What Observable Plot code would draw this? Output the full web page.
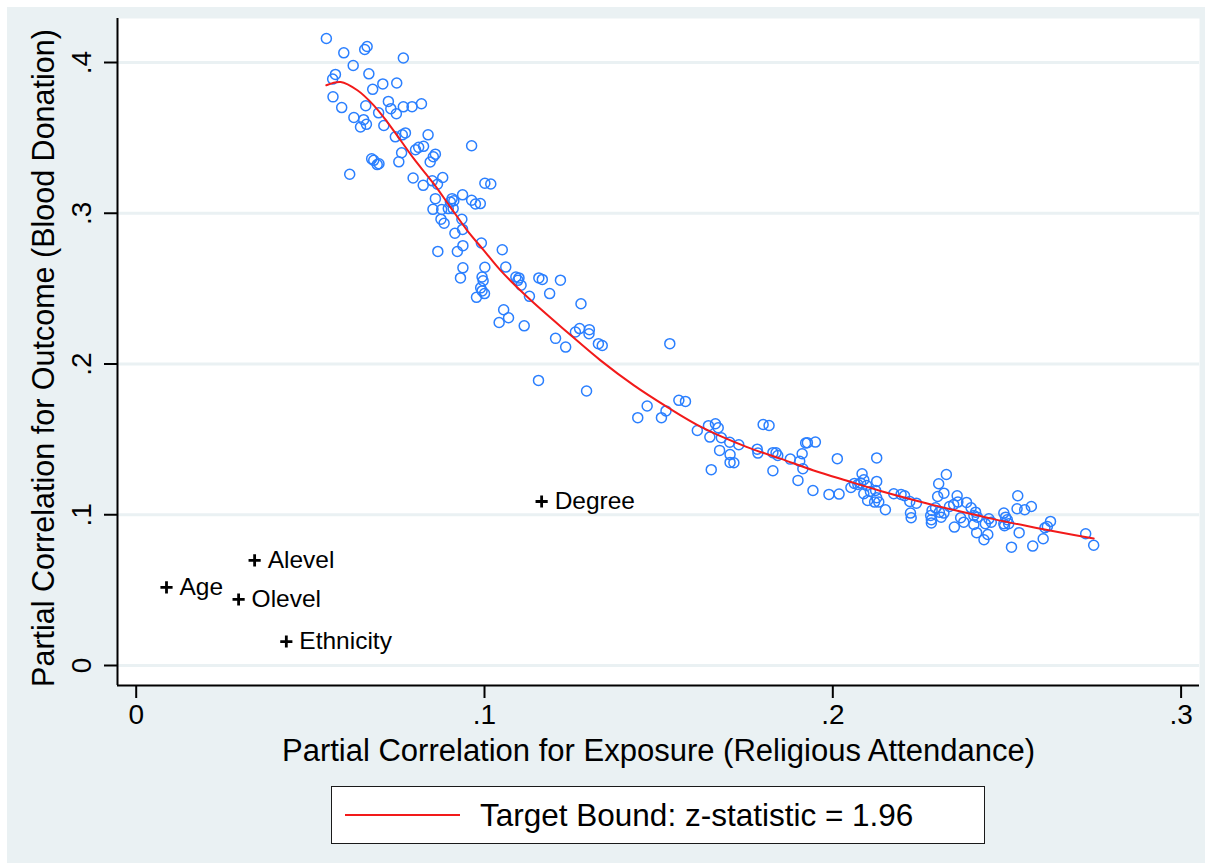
<!DOCTYPE html>
<html>
<head>
<meta charset="utf-8">
<script src="https://cdn.jsdelivr.net/npm/d3@7"></script>
<script src="https://cdn.jsdelivr.net/npm/@observablehq/plot@0.6"></script>
<style>
  html, body { margin: 0; padding: 0; background: #ffffff; }
  #wrap { position: relative; width: 1205px; height: 863px; overflow: hidden; }
  #chart { position: absolute; left: 7px; top: 7px; }
  #legend {
    position: absolute; left: 331px; top: 786px; width: 654px; height: 58px;
    box-sizing: border-box; border: 1.5px solid #1a1a1a; background: #ffffff;
    font-family: "Liberation Sans", Arial, sans-serif; font-size: 31.5px; color: #000;
    display: flex; align-items: center;
  }
  #legend .swatch { width: 115px; height: 2px; background: #f21a1a; margin-left: 13px; }
  #legend .lab { margin-left: 20px; white-space: nowrap; }
</style>
</head>
<body>
<div id="wrap">
  <div id="chart"></div>
  <div id="legend"><div class="swatch"></div><div class="lab">Target Bound: z-statistic = 1.96</div></div>
</div>
<script>
// ---------- data ----------
const xTitle = "Partial Correlation for Exposure (Religious Attendance)";
const yTitle = "Partial Correlation for Outcome (Blood Donation)";
const xTicks = [0, 0.1, 0.2, 0.3];
const xTickLabels = ["0", ".1", ".2", ".3"];
const yTicks = [0, 0.1, 0.2, 0.3, 0.4];
const yTickLabels = ["0", ".1", ".2", ".3", ".4"];

// simulated partial correlations (scatter of hollow circles)
const exposureCorr = [0.0546,0.0596,0.0656,0.0663,0.0767,0.0623,0.0668,0.0572,0.0564,0.0565,0.0590,0.0679,0.0708,0.0748,0.0659,0.0724,0.0731,0.0747,0.0767,0.0792,0.0819,0.0696,0.0625,0.0653,0.0661,0.0644,0.0711,0.0744,0.0764,0.0773,0.0838,0.0802,0.0811,0.0825,0.0762,0.0859,0.0853,0.0844,0.0754,0.0676,0.0682,0.0692,0.0697,0.0613,0.0963,0.0795,0.0824,0.0850,0.0865,0.0880,0.1001,0.1018,0.0859,0.0907,0.0912,0.0902,0.0937,0.0963,0.0974,0.0988,0.0852,0.0877,0.0896,0.0910,0.0875,0.0884,0.0935,0.0937,0.0915,0.0991,0.0866,0.0922,0.0938,0.1051,0.0938,0.0931,0.1001,0.0993,0.0996,0.0989,0.0993,0.1000,0.0977,0.1061,0.1090,0.1099,0.1096,0.1105,0.1156,0.1166,0.1218,0.1129,0.1187,0.1055,0.1069,0.1042,0.1114,0.1277,0.1204,0.1233,0.1261,0.1273,0.1301,0.1300,0.1327,0.1338,0.1532,0.1155,0.1293,0.1467,0.1440,0.1508,0.1521,0.1558,0.1577,0.1611,0.1643,0.1663,0.1671,0.1647,0.1680,0.1704,0.1730,0.1675,0.1705,0.1705,0.1716,0.1651,0.1800,0.1817,0.1783,0.1785,0.1828,0.1837,0.1842,0.1828,0.1878,0.1922,0.1927,0.1950,0.1912,0.1905,0.1914,0.1900,0.1943,0.1989,0.2018,0.2013,0.2126,0.2052,0.2062,0.2072,0.2084,0.2089,0.2080,0.2097,0.2126,0.2089,0.2100,0.2120,0.2126,0.2123,0.2151,0.2132,0.2175,0.2196,0.2206,0.2221,0.2240,0.2223,0.2225,0.2326,0.2304,0.2319,0.2301,0.2285,0.2281,0.2283,0.2283,0.2295,0.2306,0.2311,0.2319,0.2335,0.2347,0.2357,0.2359,0.2367,0.2376,0.2349,0.2384,0.2397,0.2410,0.2405,0.2415,0.2405,0.2413,0.2434,0.2445,0.2438,0.2448,0.2455,0.2491,0.2496,0.2501,0.2491,0.2505,0.2493,0.2531,0.2529,0.2551,0.2570,0.2535,0.2513,0.2574,0.2604,0.2609,0.2616,0.2625,0.2726,0.2749,0.2108];
const outcomeCorr = [0.4159,0.4064,0.4086,0.4106,0.4030,0.3980,0.3925,0.3921,0.3890,0.3772,0.3701,0.3822,0.3858,0.3864,0.3713,0.3742,0.3694,0.3660,0.3706,0.3707,0.3726,0.3666,0.3635,0.3621,0.3590,0.3572,0.3582,0.3507,0.3520,0.3533,0.3520,0.3421,0.3437,0.3444,0.3401,0.3392,0.3375,0.3340,0.3341,0.3361,0.3351,0.3323,0.3328,0.3259,0.3448,0.3234,0.3185,0.3215,0.3192,0.3237,0.3199,0.3194,0.3097,0.3097,0.3083,0.3074,0.3122,0.3086,0.3061,0.3064,0.3026,0.3025,0.3031,0.3031,0.2961,0.2934,0.2960,0.2893,0.2867,0.2803,0.2747,0.2746,0.2785,0.2758,0.2638,0.2571,0.2642,0.2577,0.2552,0.2505,0.2485,0.2467,0.2442,0.2643,0.2577,0.2571,0.2555,0.2522,0.2571,0.2561,0.2556,0.2449,0.2467,0.2360,0.2307,0.2275,0.2253,0.2400,0.2170,0.2112,0.2212,0.2235,0.2228,0.2201,0.2135,0.2123,0.2135,0.1891,0.1821,0.1721,0.1644,0.1644,0.1689,0.1759,0.1752,0.1559,0.1591,0.1604,0.1577,0.1515,0.1511,0.1481,0.1464,0.1427,0.1399,0.1347,0.1345,0.1299,0.1599,0.1592,0.1435,0.1409,0.1412,0.1411,0.1393,0.1292,0.1369,0.1476,0.1478,0.1482,0.1405,0.1355,0.1305,0.1228,0.1161,0.1135,0.1137,0.1372,0.1377,0.1181,0.1208,0.1201,0.1272,0.1232,0.1210,0.1194,0.1221,0.1139,0.1095,0.1084,0.1113,0.1161,0.1033,0.1084,0.1139,0.1135,0.1126,0.1088,0.1077,0.1011,0.0980,0.1267,0.1206,0.1143,0.1121,0.1029,0.0995,0.0967,0.0945,0.1046,0.1017,0.0984,0.1011,0.1055,0.1068,0.1126,0.1084,0.0980,0.0951,0.0918,0.1082,0.1046,0.1017,0.0995,0.0984,0.0936,0.0881,0.0834,0.0869,0.0940,0.0973,0.0951,0.1011,0.0984,0.0967,0.0940,0.0940,0.0927,0.1126,0.1040,0.1033,0.1055,0.0881,0.0785,0.0792,0.0841,0.0914,0.0922,0.0956,0.0874,0.0798,0.1155];

// target bound curve (z = 1.96)
const boundX = [0.0546,0.0587,0.0635,0.0682,0.0721,0.0759,0.0797,0.0831,0.0854,0.0902,0.0950,0.0998,0.1046,0.1123,0.1237,0.1333,0.1429,0.1525,0.1620,0.1754,0.1850,0.1945,0.2041,0.2137,0.2271,0.2367,0.2462,0.2558,0.2654,0.2749];
const boundY = [0.3849,0.3871,0.3816,0.3716,0.3605,0.3484,0.3362,0.3263,0.3196,0.3041,0.2887,0.2754,0.2621,0.2444,0.2212,0.2024,0.1858,0.1714,0.1585,0.1449,0.1372,0.1294,0.1225,0.1158,0.1075,0.1021,0.0971,0.0925,0.0882,0.0842];

// observed covariates
const covariateNames = ["Degree", "Alevel", "Age", "Olevel", "Ethnicity"];
const covariateX = [0.1164, 0.0340, 0.0087, 0.0294, 0.0431];
const covariateY = [0.1088, 0.0697, 0.0518, 0.0438, 0.0159];

const xDomain = [-0.00537, 0.30528];
const yDomain = [-0.01327, 0.42919];

// ---------- tables ----------
const n = Math.min(exposureCorr.length, outcomeCorr.length);
const points = d3.range(n).map(i => ({x: exposureCorr[i], y: outcomeCorr[i]}));
const bound = boundX.map((x, i) => ({x, y: boundY[i]}));
const covariates = covariateNames.map((name, i) => ({name, x: covariateX[i], y: covariateY[i]}));

const font = "Liberation Sans, Arial, Helvetica, sans-serif";
const bg = "#eaf1f3";

const chart = Plot.plot({
  width: 1198,
  height: 856,
  marginLeft: 110,
  marginRight: 6,
  marginTop: 11,
  marginBottom: 178,
  style: {background: bg, fontFamily: font, color: "#000", overflow: "visible"},
  x: {domain: xDomain},
  y: {domain: yDomain},
  marks: [
    Plot.frame({fill: "#ffffff", stroke: "none"}),
    Plot.gridY({ticks: yTicks, stroke: bg, strokeOpacity: 1, strokeWidth: 3}),
    Plot.axisY({ticks: yTicks, tickSize: 13, tickRotate: -90, tickPadding: 14,
      tickFormat: (d, i) => yTickLabels[i], fontSize: 28, label: null, strokeWidth: 2}),
    Plot.axisX({ticks: xTicks, tickSize: 13, tickPadding: 6,
      tickFormat: (d, i) => xTickLabels[i], fontSize: 28, label: null, strokeWidth: 2}),
    Plot.ruleX([xDomain[0]], {stroke: "#000", strokeWidth: 2}),
    Plot.ruleY([yDomain[0]], {stroke: "#000", strokeWidth: 2}),
    Plot.dot(points, {x: "x", y: "y", r: 5, stroke: "#2a7fff", strokeWidth: 1.5, fill: "none"}),
    Plot.line(bound, {x: "x", y: "y", stroke: "#f21a1a", strokeWidth: 2, curve: "catmull-rom"}),
    Plot.dot(covariates, {x: "x", y: "y", symbol: "plus", r: 4, stroke: "#000", strokeWidth: 2.8}),
    Plot.text(covariates, {x: "x", y: "y", text: "name", dx: 13, textAnchor: "start", fontSize: 24.5, fill: "#000"}),
    Plot.text([xTitle], {frameAnchor: "bottom", dy: 75, lineAnchor: "bottom", textAnchor: "middle", fontSize: 31, fill: "#000", text: d => d}),
    Plot.text([yTitle], {frameAnchor: "left", dx: -64, dy: 6, rotate: -90, lineAnchor: "bottom", textAnchor: "middle", fontSize: 30.5, fill: "#000", text: d => d})
  ]
});
document.getElementById("chart").appendChild(chart);
</script>
</body>
</html>
